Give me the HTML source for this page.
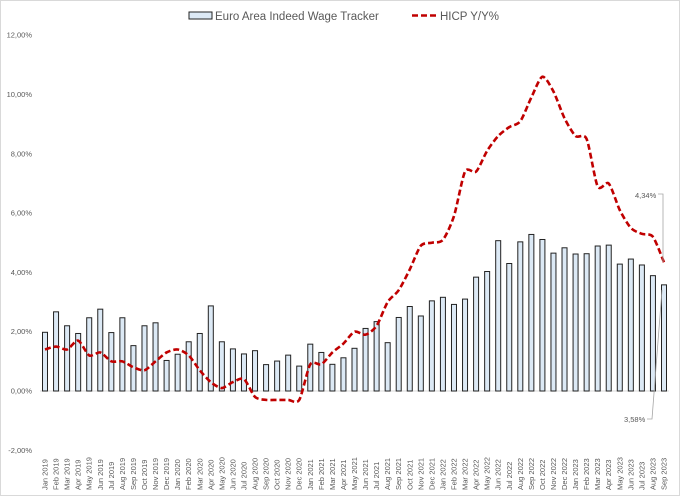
<!DOCTYPE html>
<html><head><meta charset="utf-8"><style>
html,body{margin:0;padding:0;background:#fff}
svg{display:block;font-family:"Liberation Sans",sans-serif}
</style></head><body>
<svg id="chart" width="680" height="496">
<rect x="0.5" y="0.5" width="679" height="495" fill="#fff" stroke="#d9d9d9"/>
<g id="yaxis"></g>
<line x1="40" x2="669" y1="391" y2="391" stroke="#d9d9d9" stroke-width="1"/>
<g id="bars"></g>
<path id="hicp" fill="none" stroke="#c00000" stroke-width="2.6" stroke-dasharray="6,3"/>
<g id="xaxis"></g>
<g>
 <g>
  <rect x="189" y="12" width="23" height="7" fill="#dce9f5" stroke="#222" stroke-width="1"/>
  <text x="215" y="20" font-size="11.5" fill="#595959">Euro Area Indeed Wage Tracker</text>
 </g>
 <g>
  <line x1="412" x2="437" y1="15.5" y2="15.5" stroke="#c00000" stroke-width="2.6" stroke-dasharray="6,3"/>
  <text x="440" y="20" font-size="11.5" fill="#595959">HICP Y/Y%</text>
 </g>
</g>
<g>
 <text x="635" y="198" font-size="7.5" fill="#595959">4,34%</text>
 <polyline points="658,194 663,194 663,262" fill="none" stroke="#a6a6a6" stroke-width="0.8"/>
</g>
<g>
 <text x="624" y="422" font-size="7.5" fill="#595959">3,58%</text>
 <polyline points="647,419 652,419 662,290" fill="none" stroke="#a6a6a6" stroke-width="0.8"/>
</g>
</svg>
<script>
const months = ["Jan","Feb","Mar","Apr","May","Jun","Jul","Aug","Sep","Oct","Nov","Dec"];
const categories = [];
for (let y = 2019; y <= 2023; y++) for (let m = 0; m < 12; m++) { if (y === 2023 && m > 8) break; categories.push(months[m] + " " + y); }
const wageValues = [1.98,2.67,2.20,1.94,2.47,2.76,1.97,2.47,1.53,2.20,2.30,1.03,1.24,1.66,1.94,2.87,1.66,1.42,1.25,1.36,0.89,1.01,1.21,0.84,1.58,1.30,0.90,1.12,1.44,2.11,2.34,1.63,2.48,2.85,2.53,3.04,3.16,2.92,3.10,3.84,4.03,5.07,4.30,5.03,5.28,5.11,4.65,4.83,4.62,4.63,4.89,4.92,4.28,4.45,4.25,3.89,3.58];
const hicpValues = [1.4,1.5,1.4,1.7,1.2,1.3,1.0,1.0,0.8,0.7,1.0,1.3,1.4,1.2,0.7,0.3,0.1,0.3,0.4,-0.2,-0.3,-0.3,-0.3,-0.3,0.9,0.9,1.3,1.6,2.0,1.9,2.2,3.0,3.4,4.1,4.9,5.0,5.1,5.9,7.4,7.4,8.1,8.6,8.9,9.1,9.9,10.6,10.1,9.2,8.6,8.5,6.9,7.0,6.1,5.5,5.3,5.2,4.34];
const yTicks = [-2,0,2,4,6,8,10,12];
const yTickLabels = ["-2,00%","0,00%","2,00%","4,00%","6,00%","8,00%","10,00%","12,00%"];

const NS = "http://www.w3.org/2000/svg";
const yScale = v => 391 - v * 29.65;
const xScale = i => 45 + i * (664 - 45) / (categories.length - 1);
function mk(tag, attrs, parent) { const e = document.createElementNS(NS, tag); for (const k in attrs) e.setAttribute(k, attrs[k]); parent.appendChild(e); return e; }

const yg = document.getElementById("yaxis");
yTicks.forEach((t, i) => {
  const tx = mk("text", {x: 32, y: yScale(t) + 2.5, "font-size": 7.5, fill: "#595959", "text-anchor": "end"}, yg);
  tx.textContent = yTickLabels[i];
  
  
});

const bg = document.getElementById("bars");
wageValues.forEach((v, i) => {
  const r = mk("rect", {x: xScale(i) - 2.5, y: yScale(v), width: 5, height: yScale(0) - yScale(v), fill: "#dce9f5", stroke: "#222", "stroke-width": 1}, bg);
  
  
});

const pts = hicpValues.map((v, i) => [xScale(i), yScale(v)]);
let d = "M" + pts[0][0] + "," + pts[0][1];
for (let i = 0; i < pts.length - 1; i++) {
  const p0 = pts[Math.max(0, i - 1)], p1 = pts[i], p2 = pts[i + 1], p3 = pts[Math.min(pts.length - 1, i + 2)];
  const t = 0.13;
  const c1 = [p1[0] + (p2[0] - p0[0]) * t, p1[1] + (p2[1] - p0[1]) * t];
  const c2 = [p2[0] - (p3[0] - p1[0]) * t, p2[1] - (p3[1] - p1[1]) * t];
  d += " C" + c1.join(",") + " " + c2.join(",") + " " + p2.join(",");
}
document.getElementById("hicp").setAttribute("d", d);

const xg = document.getElementById("xaxis");
categories.forEach((c, i) => {
  const x = xScale(i) + 2.5;
  const tx = mk("text", {x: x, y: 490, "font-size": 7.5, fill: "#595959", transform: "rotate(-90 " + x + " 490)"}, xg);
  tx.textContent = c;
  
  
});
</script>
</body></html>
